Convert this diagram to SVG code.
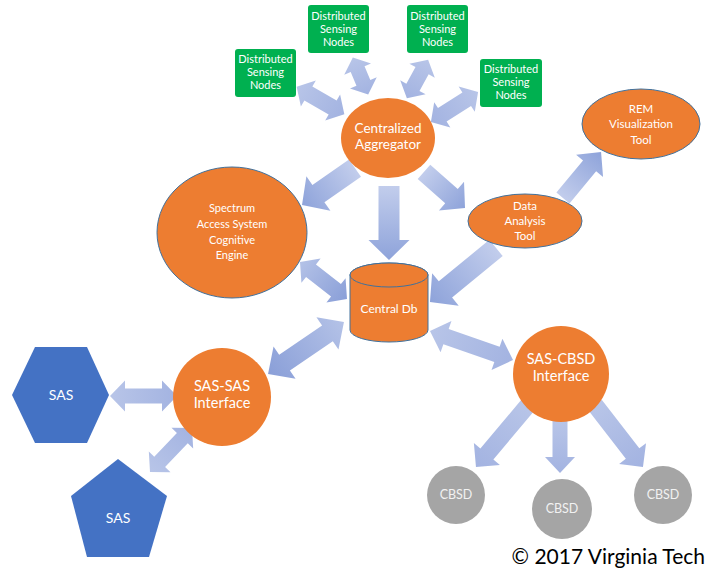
<svg xmlns="http://www.w3.org/2000/svg" width="707" height="569" viewBox="0 0 707 569">
  <defs>
    <!-- block-arrow fills: pale at the tail, deeper towards the tip -->
    <linearGradient id="flow" x1="0" y1="0" x2="1" y2="0">
      <stop offset="0" stop-color="#c2cdec"/>
      <stop offset="1" stop-color="#8ea3da"/>
    </linearGradient>
    <linearGradient id="link" x1="0" y1="0" x2="1" y2="0">
      <stop offset="0" stop-color="#b8c5e8"/>
      <stop offset="1" stop-color="#a3b3e1"/>
    </linearGradient>
    <linearGradient id="linkDeep" x1="0" y1="0" x2="1" y2="0">
      <stop offset="0" stop-color="#b4c2e7"/>
      <stop offset="1" stop-color="#8a9fd8"/>
    </linearGradient>
    <style>
      .txt { font-family: Lato, "Open Sans", "Liberation Sans", sans-serif; fill: #ffffff; text-anchor: middle; }
      .sense rect { fill: #00b050; }
      .sense text { font-size: 11px; }
      .proc { fill: #ed7d31; }
      .outlined { fill: #ed7d31; stroke: #41719c; stroke-width: 1; }
      .sas { fill: #4472c4; }
      .cbsd circle { fill: #a5a5a5; }
      .cbsd text { font-size: 12.5px; fill: #f2f2f2; }
      .one { fill: url(#flow); }
      .two { fill: url(#link); }
      .twoDeep { fill: url(#linkDeep); }
    </style>
  </defs>

  <!-- connectors: block arrows, drawn in local axes then placed -->
  <g id="connectors">
    <!-- sensing nodes <-> aggregator -->
    <path class="two" transform="translate(320.5,100.5) rotate(29.9)" d="M-27.5 0L-14 -15L-14 -8L14 -8L14 -15L27.5 0L14 15L14 8L-14 8L-14 15Z"/>
    <path class="two" transform="translate(360.5,76) rotate(67.4)" d="M-20 0L-7.5 -14.5L-7.5 -7.5L7.5 -7.5L7.5 -14.5L20 0L7.5 14.5L7.5 7.5L-7.5 7.5L-7.5 14.5Z"/>
    <path class="two" transform="translate(417.5,79) rotate(118.9)" d="M-22 0L-9.5 -14.5L-9.5 -7.5L9.5 -7.5L9.5 -14.5L22 0L9.5 14.5L9.5 7.5L-9.5 7.5L-9.5 14.5Z"/>
    <path class="two" transform="translate(454.5,107) rotate(147.4)" d="M-28 0L-14.5 -15L-14.5 -8L14.5 -8L14.5 -15L28 0L14.5 15L14.5 8L-14.5 8L-14.5 15Z"/>

    <!-- aggregator outputs -->
    <path class="one" transform="translate(328.5,186.5) rotate(145.1)" d="M-32.3 -10.5L12.3 -10.5L12.3 -21L32.3 0L12.3 21L12.3 10.5L-32.3 10.5Z"/>
    <path class="one" transform="translate(389,223) rotate(90)" d="M-37 -10.5L17 -10.5L17 -20.5L37 0L17 20.5L17 10.5L-37 10.5Z"/>
    <path class="one" transform="translate(444.5,190) rotate(41.3)" d="M-27.3 -9.5L9.3 -9.5L9.3 -19L27.3 0L9.3 19L9.3 9.5L-27.3 9.5Z"/>

    <!-- data analysis outputs -->
    <path class="one" transform="translate(582,175) rotate(-50.4)" d="M-29.9 -8.5L11.9 -8.5L11.9 -17.5L29.9 0L11.9 17.5L11.9 8.5L-29.9 8.5Z"/>
    <path class="one" transform="translate(463,275) rotate(140.7)" d="M-42.7 -10.5L22.7 -10.5L22.7 -21L42.7 0L22.7 21L22.7 10.5L-42.7 10.5Z"/>

    <!-- central db links -->
    <path class="twoDeep" transform="translate(323.5,280.5) rotate(38.2)" d="M-29.9 0L-15.9 -15.5L-15.9 -8L15.9 -8L15.9 -15.5L29.9 0L15.9 15.5L15.9 8L-15.9 8L-15.9 15.5Z"/>
    <path class="twoDeep" transform="translate(306,348) rotate(145.6)" d="M-46 0L-26 -19.5L-26 -9.5L26 -9.5L26 -19.5L46 0L26 19.5L26 9.5L-26 9.5L-26 19.5Z"/>
    <path class="two" transform="translate(471.5,345.5) rotate(19.3)" d="M-44 0L-27 -16.5L-27 -8L27 -8L27 -16.5L44 0L27 16.5L27 8L-27 8L-27 16.5Z"/>

    <!-- SAS peers <-> SAS-SAS interface -->
    <path class="two" transform="translate(143.5,396)" d="M-33.5 0L-18.5 -15.5L-18.5 -7.5L18.5 -7.5L18.5 -15.5L33.5 0L18.5 15.5L18.5 7.5L-18.5 7.5L-18.5 15.5Z"/>
    <path class="two" transform="translate(171,450) rotate(-46.3)" d="M-30.4 0L-16.4 -15L-16.4 -7.5L16.4 -7.5L16.4 -15L30.4 0L16.4 15L16.4 7.5L-16.4 7.5L-16.4 15Z"/>

    <!-- SAS-CBSD interface -> devices -->
    <path class="two" transform="translate(502,436) rotate(130)" d="M-40.5 -8.5L23.5 -8.5L23.5 -17L40.5 0L23.5 17L23.5 8.5L-40.5 8.5Z"/>
    <path class="two" transform="translate(560,446.5) rotate(90)" d="M-26.5 -7.5L10.5 -7.5L10.5 -15L26.5 0L10.5 15L10.5 7.5L-26.5 7.5Z"/>
    <path class="two" transform="translate(619,436) rotate(52.3)" d="M-39.2 -8.5L22.2 -8.5L22.2 -17L39.2 0L22.2 17L22.2 8.5L-39.2 8.5Z"/>
  </g>

  <!-- sensing nodes -->
  <g id="sense-a" class="sense">
    <rect x="235" y="49" width="61" height="48" rx="3"/>
    <text class="txt" x="265.5" y="63">Distributed</text>
    <text class="txt" x="265.5" y="76">Sensing</text>
    <text class="txt" x="265.5" y="89">Nodes</text>
  </g>
  <g id="sense-b" class="sense">
    <rect x="308" y="5" width="61" height="48" rx="3"/>
    <text class="txt" x="338.5" y="20">Distributed</text>
    <text class="txt" x="338.5" y="33">Sensing</text>
    <text class="txt" x="338.5" y="46">Nodes</text>
  </g>
  <g id="sense-c" class="sense">
    <rect x="407" y="5" width="61" height="48" rx="3"/>
    <text class="txt" x="437.5" y="20">Distributed</text>
    <text class="txt" x="437.5" y="33">Sensing</text>
    <text class="txt" x="437.5" y="46">Nodes</text>
  </g>
  <g id="sense-d" class="sense">
    <rect x="480" y="59" width="62" height="48" rx="3"/>
    <text class="txt" x="511" y="73">Distributed</text>
    <text class="txt" x="511" y="86">Sensing</text>
    <text class="txt" x="511" y="99">Nodes</text>
  </g>

  <!-- processing nodes -->
  <g id="aggregator">
    <ellipse class="proc" cx="388" cy="138" rx="47" ry="40"/>
    <text class="txt" x="388" y="133" font-size="13.5">Centralized</text>
    <text class="txt" x="388" y="149" font-size="13.5">Aggregator</text>
  </g>
  <g id="cognitive-engine">
    <ellipse class="outlined" cx="232" cy="232.5" rx="75" ry="65.5"/>
    <text class="txt" x="232" y="212" font-size="11">Spectrum</text>
    <text class="txt" x="232" y="228" font-size="11">Access System</text>
    <text class="txt" x="232" y="244" font-size="11">Cognitive</text>
    <text class="txt" x="232" y="259" font-size="11">Engine</text>
  </g>
  <g id="central-db">
    <path class="outlined" d="M350 275L350 330A39 12 0 0 0 428 330L428 275A39 12 0 0 0 350 275Z"/>
    <ellipse class="outlined" cx="389" cy="275" rx="39" ry="12"/>
    <text class="txt" x="389" y="313" font-size="12">Central Db</text>
  </g>
  <g id="data-analysis">
    <ellipse class="outlined" cx="525" cy="221" rx="57" ry="27"/>
    <text class="txt" x="525" y="210" font-size="11.5">Data</text>
    <text class="txt" x="525" y="225" font-size="11.5">Analysis</text>
    <text class="txt" x="525" y="240" font-size="11.5">Tool</text>
  </g>
  <g id="rem-tool">
    <ellipse class="outlined" cx="641" cy="124" rx="59" ry="35"/>
    <text class="txt" x="641" y="113" font-size="11.5">REM</text>
    <text class="txt" x="641" y="128" font-size="11.5">Visualization</text>
    <text class="txt" x="641" y="144" font-size="11.5">Tool</text>
  </g>
  <g id="sas-sas">
    <circle class="proc" cx="222" cy="397" r="49"/>
    <text class="txt" x="222" y="391" font-size="14.5">SAS-SAS</text>
    <text class="txt" x="222" y="408" font-size="14.5">Interface</text>
  </g>
  <g id="sas-cbsd">
    <circle class="proc" cx="561" cy="374" r="48"/>
    <text class="txt" x="561" y="364" font-size="14.5">SAS-CBSD</text>
    <text class="txt" x="561" y="381" font-size="14.5">Interface</text>
  </g>

  <!-- peer SAS systems -->
  <g id="sas-hex">
    <polygon class="sas" points="12,395 35,347 87,347 109,395 87,443 35,443"/>
    <text class="txt" x="61" y="400" font-size="14">SAS</text>
  </g>
  <g id="sas-pent">
    <polygon class="sas" points="118,459 167,496 149,557 87,557 71,496"/>
    <text class="txt" x="118" y="523" font-size="14">SAS</text>
  </g>

  <!-- devices -->
  <g id="cbsd-1" class="cbsd">
    <circle cx="456" cy="495" r="29"/>
    <text class="txt" x="456" y="499">CBSD</text>
  </g>
  <g id="cbsd-2" class="cbsd">
    <circle cx="562" cy="509" r="30"/>
    <text class="txt" x="562" y="513">CBSD</text>
  </g>
  <g id="cbsd-3" class="cbsd">
    <circle cx="663" cy="495" r="29"/>
    <text class="txt" x="663" y="499">CBSD</text>
  </g>

  <text x="705" y="564" font-family="Lato, 'Open Sans', 'Liberation Sans', sans-serif" font-size="21" fill="#000000" text-anchor="end">© 2017 Virginia Tech</text>
</svg>
